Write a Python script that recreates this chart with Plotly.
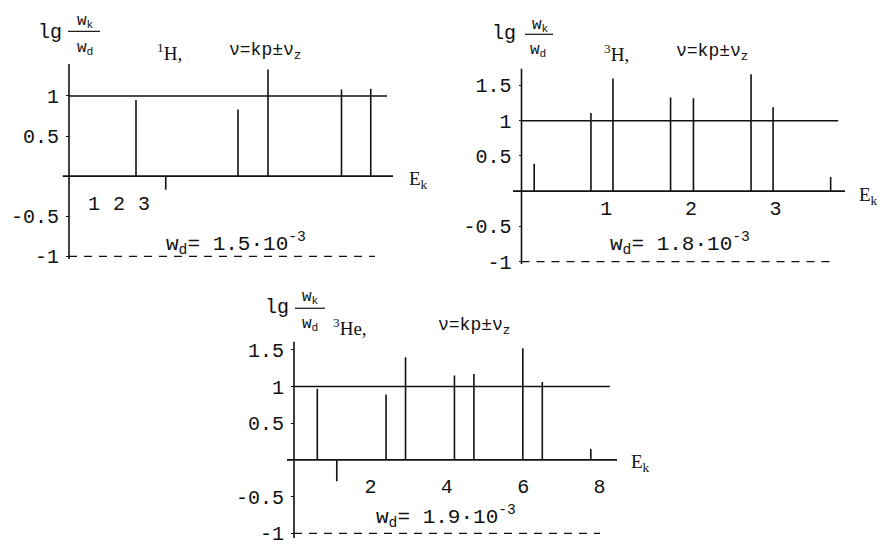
"""Relative line intensities lg(w_k/w_d) vs E_k for 1H, 3H and 3He."""

import plotly.graph_objects as go

W, H = 882, 556

# 1H panel
e_h1 = [2.68, 3.87, 6.76, 7.96, 10.9, 12.07]
lg_h1 = [0.95, -0.17, 0.83, 1.33, 1.08, 1.09]
ticks_h1 = [1, 2, 3]
yticks_h1 = [-1, -0.5, 0.5, 1]
wd_h1 = "1.5·10<sup>-3</sup>"

# 3H panel
e_h3 = [0.15, 0.82, 1.08, 1.76, 2.03, 2.71, 2.97, 3.65]
lg_h3 = [0.39, 1.11, 1.60, 1.33, 1.32, 1.66, 1.19, 0.20]
ticks_h3 = [1, 2, 3]
yticks_h3 = [-1, -0.5, 0.5, 1, 1.5]
wd_h3 = "1.8·10<sup>-3</sup>"

# 3He panel
e_he3 = [0.61, 1.12, 2.41, 2.92, 4.20, 4.71, 5.99, 6.50, 7.77]
lg_he3 = [0.97, -0.29, 0.89, 1.40, 1.15, 1.17, 1.52, 1.06, 0.15]
ticks_he3 = [2, 4, 6, 8]
yticks_he3 = [-1, -0.5, 0.5, 1, 1.5]
wd_he3 = "1.9·10<sup>-3</sup>"

MONO = "Liberation Mono, Courier New, monospace"
SERIF = "Liberation Serif, Times New Roman, serif"
INK = "#111111"


def px(x):
    return x / W


def py(y):
    return 1 - y / H


def fmt(v):
    return f"{v:g}"


# pixel geometry of each panel: x0 = pixel of E=0, sx = px per unit,
# left/right = ends of the E axis, y0 = pixel of lg=0, sy = px per unit,
# top/bottom = ends of the lg axis, lab = centre of x tick labels
PANELS = [
    dict(e=e_h1, v=lg_h1, xt=ticks_h1, yt=yticks_h1, wd=wd_h1, iso="<sup>1</sup>H,",
         x0=69, sx=25, left=62.5, right=393, y0=178, sy=82, top=63, bottom=263,
         lab=203, one_end=12.72, dash_end=12.24,
         lg=(50, 31), num=(85, 20), bar=(68, 100, 30), den=(85, 48),
         iso_at=(169, 51), nu_at=(265, 51), wd_at=(236, 247), ek=(418, 182)),
    dict(e=e_h3, v=lg_h3, xt=ticks_h3, yt=yticks_h3, wd=wd_h3, iso="<sup>3</sup>H,",
         x0=521.5, sx=84.7, left=513, right=845, y0=193.3, sy=72, top=68, bottom=268,
         lab=208, one_end=3.74, dash_end=3.64,
         lg=(504, 32), num=(540, 24), bar=(525, 553, 33), den=(538, 50),
         iso_at=(616, 52), nu_at=(712, 52), wd_at=(680, 247), ek=(868, 198)),
    dict(e=e_he3, v=lg_he3, xt=ticks_he3, yt=yticks_he3, wd=wd_he3, iso="<sup>3</sup>He,",
         x0=294, sx=38.2, left=287, right=617, y0=468, sy=75, top=347, bottom=548,
         lab=492, one_end=8.27, dash_end=8.01,
         lg=(277, 312), num=(310, 302), bar=(295, 325, 313), den=(310, 330),
         iso_at=(350, 332), nu_at=(474, 332), wd_at=(446, 526), ek=(640, 471)),
]

fig = go.Figure()
annotations, shapes = [], []

for i, p in enumerate(PANELS, start=1):
    sfx = "" if i == 1 else str(i)
    xa, ya = f"x{sfx}", f"y{sfx}"

    xr = [(p["left"] - p["x0"]) / p["sx"], (p["right"] - p["x0"]) / p["sx"]]
    yr = [(p["y0"] - p["bottom"]) / p["sy"], (p["y0"] - p["top"]) / p["sy"]]

    def line(x, y, width=1.4, dash=None):
        fig.add_trace(go.Scatter(x=x, y=y, mode="lines", xaxis=xa, yaxis=ya,
                                 line=dict(color=INK, width=width, dash=dash),
                                 hoverinfo="skip", showlegend=False))

    # both axes through the origin plus the stems, as one path
    xs = [xr[0], xr[1], None, 0, 0, None]
    ys = [0, 0, None, yr[0], yr[1], None]
    for e, v in zip(p["e"], p["v"]):
        xs += [e, e, None]
        ys += [0, v, None]
    line(xs, ys, width=1.6)
    # reference level lg = 1 and dashed lg = -1
    line([0, p["one_end"]], [1, 1])
    line([0, p["dash_end"]], [-1, -1], width=1.3, dash="8px,7px")

    fig.update_layout(**{
        f"xaxis{sfx}": dict(
            domain=[px(p["left"]), px(p["right"])], range=xr, anchor="free",
            position=py(p["lab"] - 12), showline=False, showgrid=False,
            zeroline=False, tickvals=p["xt"], ticktext=[fmt(t) for t in p["xt"]],
            ticks="", tickfont=dict(family=MONO, size=20, color=INK),
            fixedrange=True),
        f"yaxis{sfx}": dict(
            domain=[py(p["bottom"]), py(p["top"])], range=yr, anchor="free",
            position=px(p["x0"]), showline=False, showgrid=False, zeroline=False,
            tickvals=p["yt"], ticktext=[fmt(t) for t in p["yt"]],
            ticks="outside", ticklen=3, tickcolor=INK, ticklabelstandoff=3,
            tickfont=dict(family=MONO, size=20, color=INK), fixedrange=True),
    })

    def note(text, at, size=19, family=MONO):
        annotations.append(dict(text=text, x=px(at[0]), y=py(at[1]), xref="paper",
                                yref="paper", showarrow=False, xanchor="center",
                                yanchor="middle",
                                font=dict(family=family, size=size, color=INK)))

    note("lg", p["lg"], size=20)
    note("w<sub>k</sub>", p["num"], size=16)
    note("w<sub>d</sub>", p["den"], size=16)
    x1, x2, yb = p["bar"]
    shapes.append(dict(type="line", xref="paper", yref="paper", x0=px(x1), x1=px(x2),
                       y0=py(yb), y1=py(yb), line=dict(color=INK, width=1.2)))
    note(p["iso"], p["iso_at"], size=19, family=SERIF)
    note("ν=kp±ν<sub>z</sub>", p["nu_at"], size=18)
    note("w<sub>d</sub>= " + p["wd"], p["wd_at"], size=21)
    note("E<sub>k</sub>", p["ek"], size=19, family=SERIF)

fig.update_layout(width=W, height=H, margin=dict(l=0, r=0, t=0, b=0),
                  paper_bgcolor="white", plot_bgcolor="white",
                  annotations=annotations, shapes=shapes, showlegend=False)

fig.write_html("out.html", config={"displayModeBar": False},
               post_script="document.body.style.margin='0';"
                           "document.body.style.overflow='hidden';")
